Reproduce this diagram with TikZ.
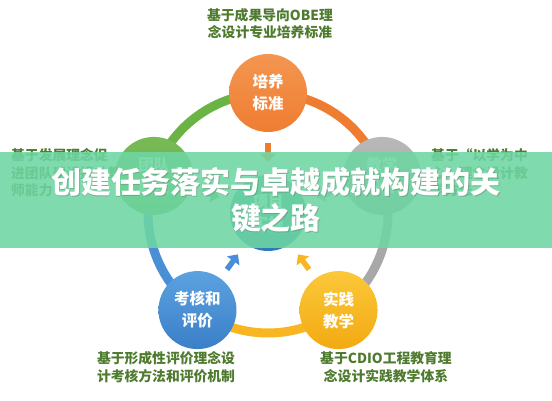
\documentclass[tikz,border=0pt]{standalone}
\usepackage{fontspec}
\newfontfamily\cjk{Noto Sans CJK SC}
\usetikzlibrary{arrows.meta}
\definecolor{cOrange}{HTML}{EF7D31}
\definecolor{cGray}{HTML}{A8A8A8}
\definecolor{cYellow}{HTML}{F8B722}
\definecolor{cBlue}{HTML}{4A8FD6}
\definecolor{cGreen}{HTML}{6AB446}
\definecolor{cLabel}{HTML}{4E7B2E}
\definecolor{cBanner}{HTML}{6ED6A3}
\tikzset{
  bubble/.style={circle, minimum size=78pt, inner sep=0pt, align=center,
    text=white, font=\cjk\bfseries\fontsize{15.5}{22}\selectfont},
  ringarc/.style={line width=9pt},
  inarrow/.style={line width=5.5pt, -{Triangle[width=15pt,length=8pt]},
    shorten <=11pt, shorten >=13pt},
  sidelabel/.style={text=cLabel, font=\cjk\bfseries\fontsize{13.8}{17.5}\selectfont, inner sep=0pt}
}
\begin{document}
\begin{tikzpicture}[x=1pt,y=1pt]
\useasboundingbox (0,0) rectangle (552,400);
\fill[white] (0,0) rectangle (552,400);
\coordinate (rc) at (268,187);
% ring arcs
\draw[ringarc, cGreen]  ([shift={(162:120)}]rc) arc[start angle=162, end angle=90, radius=120];
\draw[ringarc, cOrange] ([shift={(90:120)}]rc) arc[start angle=90, end angle=18, radius=120];
\draw[ringarc, cGray]   ([shift={(18:120)}]rc) arc[start angle=18, end angle=-54, radius=120];
\draw[ringarc, cYellow] ([shift={(-54:120)}]rc) arc[start angle=-54, end angle=-126, radius=120];
\draw[ringarc, cBlue]   ([shift={(-126:120)}]rc) arc[start angle=-126, end angle=-198, radius=120];
% nodes
\node[bubble, top color={rgb,255:red,243;green,150;blue,80}, bottom color=cOrange] (peiyang) at ([shift={(90:120)}]rc) {培养\\标准};
\node[bubble, top color={rgb,255:red,185;green,185;blue,185}, bottom color={rgb,255:red,160;green,160;blue,160}] (jiaoxue) at ([shift={(18:120)}]rc) {教学\\设计};
\node[bubble, top color={rgb,255:red,251;green,200;blue,58}, bottom color={rgb,255:red,242;green,170;blue,18}] (shijian) at ([shift={(-54:120)}]rc) {实践\\教学};
\node[bubble, top color={rgb,255:red,92;green,162;blue,224}, bottom color={rgb,255:red,58;green,127;blue,200}] (kaohe) at ([shift={(-126:120)}]rc) {考核和\\评价};
\node[bubble, top color={rgb,255:red,120;green,186;blue,86}, bottom color={rgb,255:red,98;green,170;blue,70}] (tuandui) at ([shift={(162:120)}]rc) {团队\\建设};
\node[bubble, minimum size=76pt, top color={rgb,255:red,60;green,170;blue,140}, bottom color={rgb,255:red,48;green,120;blue,190}] (xiangmu) at (rc) {项目\\实施};
% arrows toward centre
\draw[inarrow, cOrange] (peiyang) -- (xiangmu);
\draw[inarrow, cGray] (jiaoxue) -- (xiangmu);
\draw[inarrow, cYellow] (shijian) -- (xiangmu);
\draw[inarrow, cBlue] (kaohe) -- (xiangmu);
\draw[inarrow, cGreen] (tuandui) -- (xiangmu);
% side labels
\node[sidelabel, align=center] (lTop) at (270,376.5) {基于成果导向OBE理\\念设计专业培养标准};
\node[sidelabel, align=left, anchor=west] (lLeft) at (11,227) {基于发展理念促\\进团队建设提升教\\师能力};
\node[sidelabel, align=left, anchor=west] (lRight) at (431,227) {基于“以学为中\\心”理念设计教\\学方法};
\node[sidelabel, align=center] (lBL) at (166,33) {基于形成性评价理念设\\计考核方法和评价机制};
\node[sidelabel, align=center] (lBR) at (386,33) {基于CDIO工程教育理\\念设计实践教学体系};
% banner
\fill[cBanner, opacity=0.88] (0,152) rectangle (552,248);
\node[text=black!60, opacity=0.35, align=center, font=\cjk\bfseries\fontsize{30}{36}\selectfont] at (277,198.5) {创建任务落实与卓越成就构建的关\\键之路};
\node[text=white, align=center, font=\cjk\bfseries\fontsize{30}{36}\selectfont] (banner) at (276,199.5) {创建任务落实与卓越成就构建的关\\键之路};
\end{tikzpicture}
\end{document}
